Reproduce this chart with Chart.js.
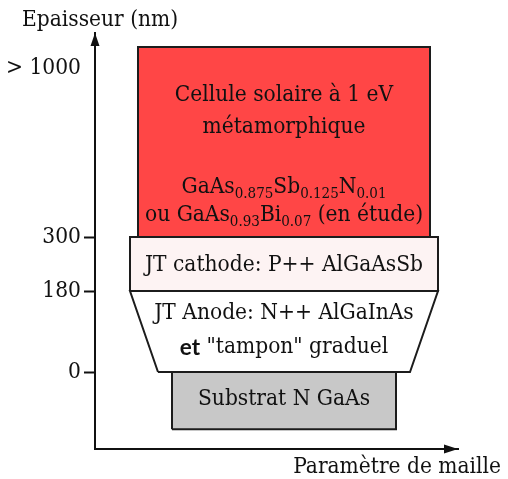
<!DOCTYPE html>
<html>
<head>
<meta charset="utf-8">
<script src="https://cdn.jsdelivr.net/npm/chart.js@4.4.1/dist/chart.umd.min.js"></script>
<style>
  html, body { margin: 0; padding: 0; background: #fff; }
  #wrap { width: 508px; height: 479px; }
</style>
</head>
<body>
<div id="wrap"><canvas id="stack-chart" width="508" height="479"></canvas></div>
<script>
// thickness axis (nm) - ticks
const tickNm = [0, 180, 300, 1000];
const tickLabels = ['0', '180', '300', '> 1000'];

// layers, bottom to top
const layerNames = ['Substrat N GaAs', 'JT Anode', 'JT cathode', 'Cellule solaire'];
const layerBottomNm = [-127, 0, 180, 300];
const layerTopNm = [0, 180, 300, 1087];
// relative lattice parameter (half width of the layer) at bottom and top
const latticeBottom = [112, 126, 154, 146];
const latticeTop = [112, 154, 154, 146];
const layerFill = ['#c8c8c8', '#ffffff', '#fdf3f3', '#ff4646'];

// text inside each layer: lines of [text, style] segments, with a vertical offset
const layerText = [
  [[-1, [['Substrat N GaAs', 'n']]]],
  [[-18, [['JT Anode: N++ AlGaInAs', 'n']]],
   [16, [['et', 'b'], [' "tampon" graduel', 'n']]]],
  [[1, [['JT cathode: P++ AlGaAsSb', 'n']]]],
  [[-47, [['Cellule solaire à 1 eV', 'n']]],
   [-15, [['métamorphique', 'n']]],
   [45, [['GaAs', 'n'], ['0.875', 's'], ['Sb', 'n'], ['0.125', 's'], ['N', 'n'], ['0.01', 's']]],
   [73, [['ou GaAs', 'n'], ['0.93', 's'], ['Bi', 'n'], ['0.07', 's'], [' (en étude)', 'n']]]]
];

// the thickness axis is schematic: each interval between ticks has its own length
const axisStopsNm = [0, 180, 300, 1000];
const axisStopsLen = [0, 81, 135, 304];
function toAxis(nm) {
  const n = axisStopsNm.length;
  let i = 0;
  if (nm <= axisStopsNm[0]) i = 0;
  else if (nm >= axisStopsNm[n - 1]) i = n - 2;
  else while (nm > axisStopsNm[i + 1]) i++;
  const a = axisStopsNm[i], b = axisStopsNm[i + 1];
  return axisStopsLen[i] + (nm - a) * (axisStopsLen[i + 1] - axisStopsLen[i]) / (b - a);
}

const serif = "'DejaVu Serif Condensed', 'DejaVu Serif', serif";
const fontSize = 22.5;
const ink = '#111';

const datasets = layerNames.map((name, i) => {
  const y0 = toAxis(layerBottomNm[i]), y1 = toAxis(layerTopNm[i]);
  return {
    label: name,
    data: [
      {x: -latticeBottom[i], y: y0},
      {x: latticeBottom[i], y: y0},
      {x: latticeTop[i], y: y1},
      {x: -latticeTop[i], y: y1},
      {x: -latticeBottom[i], y: y0}
    ],
    borderColor: '#1c1c1c',
    borderWidth: 2,
    backgroundColor: layerFill[i],
    fill: 'shape',
    pointRadius: 0,
    tension: 0,
    borderJoinStyle: 'miter'
  };
});

function drawRich(ctx, segs, cx, cy) {
  const fonts = {
    n: fontSize + 'px ' + serif,
    s: Math.round(fontSize * 0.68) + 'px ' + serif,
    b: 'bold ' + fontSize + 'px Lato, sans-serif'
  };
  let w = 0;
  segs.forEach(s => { ctx.font = fonts[s[1]]; w += ctx.measureText(s[0]).width; });
  let x = cx - w / 2;
  segs.forEach(s => {
    ctx.font = fonts[s[1]];
    ctx.fillText(s[0], x, s[1] === 's' ? cy + 7 : cy);
    x += ctx.measureText(s[0]).width;
  });
}

const diagramPlugin = {
  id: 'diagram',
  afterDatasetsDraw(chart) {
    const ctx = chart.ctx;
    const xs = chart.scales.x, ys = chart.scales.y;
    const area = chart.chartArea;
    ctx.save();
    ctx.fillStyle = ink;
    ctx.textAlign = 'left';
    ctx.textBaseline = 'middle';
    layerText.forEach((lines, i) => {
      const cy = (ys.getPixelForValue(toAxis(layerBottomNm[i])) + ys.getPixelForValue(toAxis(layerTopNm[i]))) / 2;
      const cx = xs.getPixelForValue(0);
      lines.forEach(l => drawRich(ctx, l[1], cx, cy + l[0]));
    });

    // arrow heads
    ctx.fillStyle = '#111';
    ctx.beginPath();
    ctx.moveTo(area.left, area.top);
    ctx.lineTo(area.left - 4.5, area.top + 13);
    ctx.lineTo(area.left + 4.5, area.top + 13);
    ctx.closePath();
    ctx.fill();
    ctx.beginPath();
    ctx.moveTo(area.right, area.bottom);
    ctx.lineTo(area.right - 14, area.bottom - 4.5);
    ctx.lineTo(area.right - 14, area.bottom + 4.5);
    ctx.closePath();
    ctx.fill();

    // axis titles
    ctx.fillStyle = ink;
    ctx.font = fontSize + 'px ' + serif;
    ctx.textAlign = 'left';
    ctx.fillText('Epaisseur (nm)', 22, 20);
    ctx.textAlign = 'right';
    ctx.fillText('Paramètre de maille', 501, 467);
    ctx.restore();
  }
};

new Chart(document.getElementById('stack-chart'), {
  type: 'line',
  data: { datasets: datasets },
  options: {
    responsive: false,
    animation: false,
    layout: { padding: { top: 33, right: 50, left: 0, bottom: 0 } },
    plugins: { legend: { display: false }, tooltip: { enabled: false } },
    scales: {
      x: {
        type: 'linear',
        min: -189,
        max: 174,
        ticks: { display: false },
        grid: { display: true, drawOnChartArea: false, drawTicks: false },
        border: { color: '#111', width: 2 },
        afterFit: s => { s.height = 30; }
      },
      y: {
        type: 'linear',
        min: -77,
        max: 339,
        afterBuildTicks: s => { s.ticks = tickNm.map(v => ({ value: toAxis(v) })); },
        ticks: {
          callback: (v, i) => tickLabels[i],
          color: ink,
          font: { family: serif, size: fontSize },
          padding: 3
        },
        grid: {
          drawOnChartArea: false,
          tickLength: 11,
          tickWidth: 2,
          tickColor: c => (c.index === 3 ? 'rgba(0,0,0,0)' : '#111')
        },
        border: { color: '#111', width: 2 },
        afterFit: s => { s.width = 95; }
      }
    }
  },
  plugins: [diagramPlugin]
});
</script>
</body>
</html>
